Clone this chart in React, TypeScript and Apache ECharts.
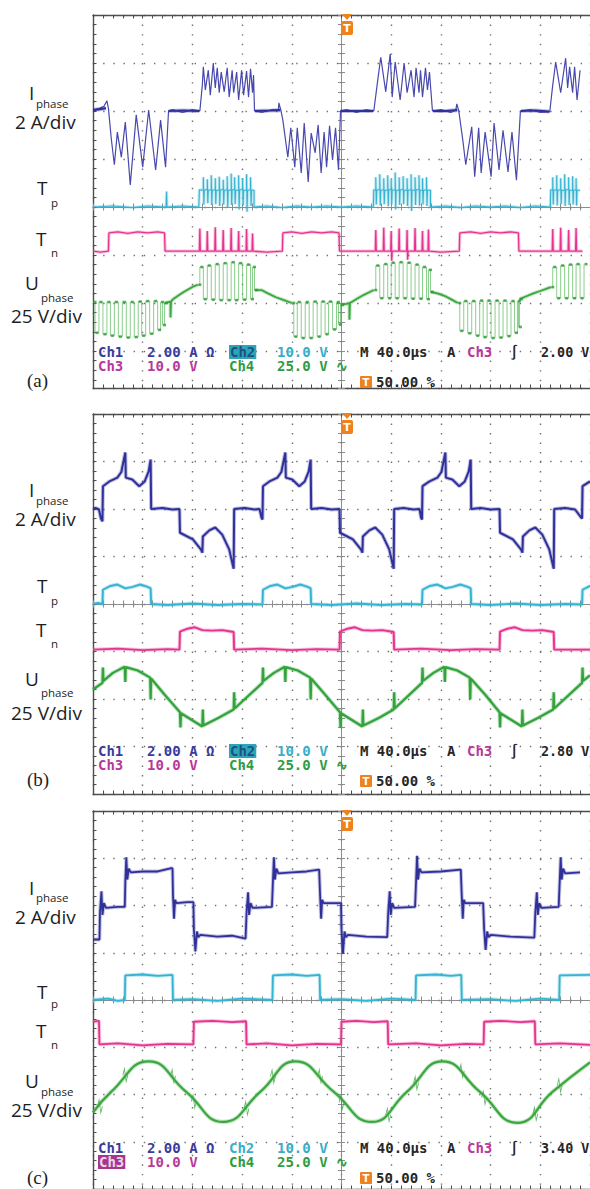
import React, { useEffect, useRef } from "react";
import * as echarts from "echarts";

type Pt = [number, number];

// ---------------- Panel (a) data (x: time in divisions, y: screen divisions) ----------------
const aIphase: Pt[] = [
  [-5.0, 2.02], [-4.86, 2.06], [-4.78, 2.1], [-4.72, 2.21], [-4.69, 2.06], [-4.63, 1.4], [-4.57, 0.88], [-4.51, 1.56],
  [-4.43, 1.04], [-4.35, 1.77], [-4.25, 0.46], [-4.13, 1.92], [-4.0, 0.83], [-3.88, 2.02], [-3.74, 0.77], [-3.64, 1.81],
  [-3.54, 0.83], [-3.48, 2.0], [-3.4, 2.03], [-3.2, 1.97], [-3.0, 2.03], [-2.85, 2.0], [-2.8, 2.54],
  [-2.78, 2.92], [-2.74, 2.44], [-2.68, 2.85], [-2.64, 2.33], [-2.58, 3.0], [-2.54, 2.48], [-2.5, 2.9], [-2.46, 2.38],
  [-2.42, 2.81], [-2.36, 2.4], [-2.3, 2.9], [-2.26, 2.29], [-2.2, 2.85], [-2.17, 2.38], [-2.11, 2.81], [-2.07, 2.23],
  [-2.01, 2.85], [-1.97, 2.33], [-1.91, 2.83], [-1.87, 2.29], [-1.83, 2.88], [-1.79, 2.38], [-1.77, 2.75], [-1.75, 2.0],
  [-1.6, 1.97], [-1.4, 2.03], [-1.27, 2.02], [-1.26, 2.17], [-1.22, 2.02],
  [-1.18, 1.81], [-1.08, 1.04], [-1.02, 1.65], [-0.94, 0.83], [-0.89, 1.65], [-0.81, 0.71], [-0.75, 1.75], [-0.67, 0.52],
  [-0.61, 1.54], [-0.53, 1.13], [-0.47, 1.71], [-0.41, 0.71], [-0.35, 1.56], [-0.3, 0.83], [-0.24, 1.69], [-0.18, 0.98],
  [-0.12, 1.65], [-0.06, 0.77], [-0.02, 2.0], [0.1, 2.03], [0.3, 1.97], [0.5, 2.03], [0.65, 2.0], [0.73, 2.65],
  [0.79, 3.12], [0.89, 2.4], [0.98, 3.19], [1.02, 2.29], [1.08, 3.02], [1.18, 2.23], [1.26, 3.0], [1.32, 2.38],
  [1.4, 2.85], [1.46, 2.29], [1.5, 2.9], [1.56, 2.38], [1.59, 2.85], [1.63, 2.29], [1.69, 2.9], [1.73, 2.44],
  [1.77, 2.81], [1.83, 2.0], [2.0, 2.03], [2.2, 1.97], [2.3, 2.02], [2.32, 2.15], [2.36, 2.0],
  [2.44, 1.4], [2.5, 0.88], [2.62, 1.67], [2.68, 0.63], [2.76, 1.65], [2.81, 0.71], [2.89, 1.56], [3.01, 0.63],
  [3.07, 1.75], [3.17, 0.77], [3.25, 1.6], [3.35, 0.73], [3.43, 1.56], [3.52, 0.56], [3.6, 2.0], [3.8, 2.03],
  [4.0, 1.97], [4.19, 1.98], [4.25, 2.54], [4.31, 3.02], [4.41, 2.38], [4.51, 3.1], [4.55, 2.48], [4.59, 2.92],
  [4.65, 2.38], [4.69, 2.92], [4.74, 2.23], [4.8, 2.85]
];

// flat (zero current) stretches of I_phase (a), drawn as a thicker band
const aIphaseFlat: Pt[][] = [
  [[-5.0, 2.02], [-4.86, 2.04], [-4.74, 2.06]],
  [[-3.48, 2.0], [-3.2, 2.01], [-2.86, 2.0]],
  [[-1.74, 2.0], [-1.4, 2.01], [-1.23, 2.02]],
  [[-0.02, 2.0], [0.3, 2.0], [0.64, 2.0]],
  [[1.84, 2.0], [2.1, 2.0], [2.33, 2.02]],
  [[3.61, 2.0], [3.9, 2.01], [4.18, 1.99]]
];

const aTp: Pt[] = [
  [-5.0, 0.0], [-4.6, 0.02], [-4.2, -0.01], [-3.9, 0.02], [-3.53, 0.0], [-3.52, 0.32], [-3.51, 0.0], [-3.2, 0.02], [-2.87, 0.0],
  [-2.86, 0.36], [-2.78, 0.35], [-2.78, 0.62], [-2.77, 0.05], [-2.76, 0.35], [-2.7, 0.37], [-2.7, 0.58], [-2.69, 0.08],
  [-2.68, 0.35], [-2.62, 0.36], [-2.62, 0.66], [-2.61, 0.04], [-2.6, 0.35], [-2.54, 0.36], [-2.54, 0.6], [-2.53, 0.06],
  [-2.52, 0.35], [-2.46, 0.35], [-2.46, 0.63], [-2.45, 0.02], [-2.44, 0.36], [-2.38, 0.36], [-2.38, 0.57], [-2.37, 0.05],
  [-2.36, 0.35], [-2.3, 0.36], [-2.3, 0.64], [-2.29, -0.02], [-2.28, 0.35], [-2.22, 0.35], [-2.22, 0.7], [-2.21, 0.04],
  [-2.2, 0.36], [-2.15, 0.36], [-2.15, 0.62], [-2.14, 0.06], [-2.13, 0.35], [-2.07, 0.35], [-2.07, 0.66], [-2.06, -0.05],
  [-2.05, 0.36], [-1.99, 0.36], [-1.99, 0.6], [-1.98, 0.03], [-1.97, 0.35], [-1.91, 0.35], [-1.91, 0.68], [-1.9, -0.1],
  [-1.89, 0.35], [-1.83, 0.36], [-1.83, 0.62], [-1.82, 0.02], [-1.81, 0.35], [-1.76, 0.35], [-1.76, 0.0],
  [-1.5, 0.02], [-1.2, -0.01], [-0.9, 0.02], [-0.6, 0.0], [-0.3, 0.02], [0.0, 0.0], [0.3, 0.02], [0.64, 0.0],
  [0.65, 0.36], [0.69, 0.35], [0.69, 0.62], [0.7, 0.05], [0.71, 0.35], [0.77, 0.37], [0.77, 0.68], [0.78, 0.03],
  [0.79, 0.35], [0.85, 0.36], [0.85, 0.6], [0.86, 0.06], [0.87, 0.35], [0.93, 0.35], [0.93, 0.66], [0.94, 0.02],
  [0.95, 0.36], [1.0, 0.36], [1.0, 0.58], [1.01, 0.05], [1.02, 0.35], [1.08, 0.36], [1.08, 0.72], [1.09, -0.05],
  [1.1, 0.35], [1.16, 0.35], [1.16, 0.62], [1.17, 0.04], [1.18, 0.36], [1.24, 0.36], [1.24, 0.64], [1.25, 0.06],
  [1.26, 0.35], [1.32, 0.35], [1.32, 0.6], [1.33, 0.02], [1.34, 0.35], [1.4, 0.36], [1.4, 0.68], [1.41, -0.08],
  [1.42, 0.35], [1.48, 0.35], [1.48, 0.62], [1.49, 0.04], [1.5, 0.36], [1.56, 0.36], [1.56, 0.66], [1.57, 0.03],
  [1.58, 0.35], [1.63, 0.35], [1.63, 0.6], [1.64, 0.05], [1.65, 0.35], [1.71, 0.36], [1.71, 0.62], [1.72, 0.02],
  [1.73, 0.35], [1.79, 0.35], [1.79, 0.0],
  [2.1, 0.02], [2.4, -0.01], [2.7, 0.02], [3.0, 0.0], [3.3, 0.02], [3.6, -0.01], [3.9, 0.02], [4.2, 0.0],
  [4.21, 0.36], [4.25, 0.35], [4.25, 0.62], [4.26, 0.05], [4.27, 0.35], [4.33, 0.36], [4.33, 0.66], [4.34, 0.03],
  [4.35, 0.35], [4.41, 0.36], [4.41, 0.6], [4.42, 0.06], [4.43, 0.35], [4.49, 0.35], [4.49, 0.68], [4.5, 0.02],
  [4.51, 0.36], [4.57, 0.36], [4.57, 0.62], [4.58, 0.04], [4.59, 0.35], [4.65, 0.35], [4.65, 0.64], [4.66, 0.05],
  [4.67, 0.35], [4.72, 0.36], [4.72, 0.6], [4.73, 0.03], [4.74, 0.35], [4.8, 0.35]
];

const aTn: Pt[] = [
  [-5.0, -0.92], [-4.85, -0.94], [-4.69, -0.92], [-4.68, -0.54], [-4.5, -0.52], [-4.3, -0.55], [-4.1, -0.52],
  [-3.9, -0.54], [-3.7, -0.52], [-3.56, -0.54], [-3.55, -0.92],
  [-2.86, -0.92], [-2.85, -0.45], [-2.84, -0.92], [-2.71, -0.92], [-2.7, -0.5], [-2.69, -0.92], [-2.55, -0.92],
  [-2.54, -0.42], [-2.53, -0.92], [-2.39, -0.92], [-2.38, -0.48], [-2.37, -0.92], [-2.23, -0.92], [-2.22, -0.44],
  [-2.21, -0.92], [-2.08, -0.92], [-2.07, -0.5], [-2.06, -0.92], [-1.92, -0.92], [-1.91, -0.46], [-1.9, -0.92],
  [-1.8, -0.92], [-1.79, -0.55], [-1.78, -0.92],
  [-1.5, -0.94], [-1.19, -0.92], [-1.18, -0.54], [-1.0, -0.52], [-0.8, -0.55], [-0.6, -0.52], [-0.4, -0.54],
  [-0.2, -0.52], [-0.05, -0.54], [-0.04, -0.92],
  [0.68, -0.92], [0.69, -0.48], [0.7, -0.92], [0.84, -0.92], [0.85, -0.43], [0.86, -0.92], [0.99, -0.92],
  [1.0, -0.5], [1.01, -1.12], [1.02, -0.92], [1.15, -0.92], [1.16, -0.45], [1.17, -0.92], [1.31, -0.92],
  [1.32, -0.48], [1.33, -1.1], [1.34, -0.92], [1.47, -0.92], [1.48, -0.44], [1.49, -0.92], [1.62, -0.92],
  [1.63, -0.5], [1.64, -0.92], [1.74, -0.92], [1.75, -0.47], [1.76, -0.92],
  [2.0, -0.94], [2.37, -0.92], [2.38, -0.54], [2.6, -0.52], [2.8, -0.55], [3.0, -0.52], [3.2, -0.54],
  [3.4, -0.52], [3.56, -0.54], [3.57, -0.92],
  [4.24, -0.92], [4.25, -0.46], [4.26, -0.92], [4.4, -0.92], [4.41, -0.43], [4.42, -0.92], [4.56, -0.92],
  [4.57, -0.48], [4.58, -0.92], [4.71, -0.92], [4.72, -0.44], [4.73, -0.92], [4.85, -0.92]
];

// PWM switching stretches of U_phase (a): each point = [switch time, new level]
const aUphasePwm: Pt[][] = [
  [[-5.0, -1.98], [-4.96, -2.62], [-4.88, -1.98], [-4.8, -2.65], [-4.72, -1.98], [-4.65, -2.68], [-4.57, -1.98],
   [-4.49, -2.7], [-4.41, -1.98], [-4.33, -2.72], [-4.25, -1.98], [-4.17, -2.71], [-4.09, -1.97], [-4.02, -2.68],
   [-3.94, -1.96], [-3.86, -2.64], [-3.78, -1.96], [-3.7, -2.56], [-3.64, -1.98], [-3.6, -2.46], [-3.56, -2.0]],
  [[-2.89, -1.62], [-2.85, -1.25], [-2.78, -1.92], [-2.7, -1.22], [-2.62, -1.93], [-2.54, -1.19], [-2.46, -1.94],
   [-2.38, -1.17], [-2.3, -1.94], [-2.22, -1.15], [-2.15, -1.94], [-2.07, -1.17], [-1.99, -1.93], [-1.91, -1.2],
   [-1.83, -1.92], [-1.79, -1.25], [-1.75, -1.73]],
  [[-1.0, -2.0], [-0.96, -2.7], [-0.89, -1.98], [-0.81, -2.73], [-0.73, -1.98], [-0.65, -2.73], [-0.57, -1.97],
   [-0.49, -2.7], [-0.41, -1.97], [-0.33, -2.65], [-0.26, -1.97], [-0.18, -2.55], [-0.1, -1.98], [-0.06, -2.45],
   [-0.02, -2.04]],
  [[0.65, -1.73], [0.69, -1.22], [0.77, -1.9], [0.85, -1.19], [0.93, -1.9], [1.0, -1.16], [1.08, -1.9], [1.16, -1.15],
   [1.24, -1.9], [1.32, -1.16], [1.4, -1.91], [1.48, -1.2], [1.56, -1.91], [1.63, -1.25], [1.71, -1.92],
   [1.75, -1.31], [1.79, -1.77]],
  [[2.34, -2.0], [2.38, -2.58], [2.46, -1.96], [2.54, -2.63], [2.62, -1.96], [2.7, -2.68], [2.78, -1.95],
   [2.85, -2.71], [2.93, -1.95], [3.01, -2.73], [3.09, -1.95], [3.17, -2.72], [3.25, -1.95], [3.33, -2.69],
   [3.41, -1.96], [3.48, -2.62], [3.54, -1.96], [3.56, -2.5], [3.58, -1.92]],
  [[4.21, -1.67], [4.25, -1.25], [4.33, -1.9], [4.41, -1.22], [4.49, -1.9], [4.57, -1.2], [4.65, -1.9],
   [4.72, -1.19], [4.8, -1.9], [4.88, -1.19]]
];

// slow (non switching) stretches of U_phase (a)
const aUphaseRamp: Pt[][] = [
  [[-3.56, -2.0], [-3.48, -1.98], [-3.44, -1.97], [-3.44, -2.3], [-3.43, -1.97], [-3.39, -1.92], [-3.29, -1.85],
   [-3.19, -1.78], [-3.09, -1.72], [-2.99, -1.66], [-2.89, -1.62]],
  [[-1.75, -1.73], [-1.61, -1.73], [-1.48, -1.8], [-1.32, -1.88], [-1.16, -1.94], [-1.0, -2.0]],
  [[-0.02, -2.04], [0.1, -2.02], [0.16, -2.0], [0.16, -2.35], [0.17, -2.0], [0.22, -1.97], [0.33, -1.9],
   [0.45, -1.83], [0.57, -1.77], [0.65, -1.73]],
  [[1.79, -1.77], [1.93, -1.8], [2.07, -1.85], [2.2, -1.92], [2.34, -2.0]],
  [[3.58, -1.92], [3.72, -1.86], [3.86, -1.8], [4.0, -1.75], [4.13, -1.7], [4.21, -1.67]]
];

// ---------------- Panel (b) data ----------------
const bIphase: Pt[] = [
  [-5.0, 2.0], [-4.95, 2.02], [-4.88, 1.99], [-4.84, 1.8], [-4.81, 1.74],
  [-4.8, 2.48], [-4.67, 2.58], [-4.51, 2.66], [-4.43, 2.78], [-4.35, 3.19], [-4.34, 2.66], [-4.21, 2.62],
  [-4.07, 2.48], [-3.96, 2.58], [-3.88, 2.79], [-3.84, 3.04], [-3.83, 2.0],
  [-3.6, 2.02], [-3.4, 1.99], [-3.26, 2.0],
  [-3.25, 1.5], [-2.99, 1.36], [-2.83, 1.15], [-2.8, 1.08], [-2.79, 1.42], [-2.66, 1.55], [-2.54, 1.61],
  [-2.4, 1.46], [-2.26, 1.15], [-2.17, 0.74], [-2.16, 2.0],
  [-1.95, 2.02], [-1.75, 1.99], [-1.65, 2.0], [-1.61, 1.82], [-1.59, 1.78],
  [-1.58, 2.48], [-1.45, 2.58], [-1.29, 2.66], [-1.21, 2.78], [-1.13, 3.19], [-1.12, 2.66], [-0.99, 2.62],
  [-0.85, 2.48], [-0.74, 2.58], [-0.66, 2.79], [-0.62, 3.04], [-0.61, 2.0],
  [-0.4, 2.02], [-0.2, 1.99], [-0.04, 2.0],
  [-0.03, 1.5], [0.23, 1.36], [0.39, 1.15], [0.42, 1.08], [0.43, 1.42], [0.56, 1.55], [0.68, 1.61],
  [0.82, 1.46], [0.96, 1.15], [1.05, 0.74], [1.06, 2.0],
  [1.25, 2.02], [1.45, 1.99], [1.57, 2.0], [1.6, 1.82], [1.62, 1.78],
  [1.63, 2.48], [1.77, 2.58], [1.93, 2.66], [2.01, 2.78], [2.09, 3.19], [2.1, 2.66], [2.23, 2.62],
  [2.37, 2.48], [2.48, 2.58], [2.56, 2.79], [2.6, 3.04], [2.61, 2.0],
  [2.8, 2.02], [3.0, 1.99], [3.18, 2.0],
  [3.19, 1.5], [3.45, 1.36], [3.61, 1.15], [3.64, 1.08], [3.65, 1.42], [3.78, 1.55], [3.9, 1.61],
  [4.04, 1.46], [4.18, 1.15], [4.27, 0.74], [4.28, 2.0],
  [4.5, 2.02], [4.7, 1.99], [4.8, 1.85], [4.84, 1.8], [4.85, 2.48], [5.0, 2.58]
];

const bTp: Pt[] = [
  [-5.0, 0.0], [-4.9, 0.02], [-4.81, 0.0], [-4.8, 0.3], [-4.65, 0.38], [-4.51, 0.41], [-4.35, 0.33], [-4.2, 0.36],
  [-4.05, 0.41], [-3.9, 0.36], [-3.84, 0.33], [-3.83, 0.0], [-3.5, -0.02], [-3.0, 0.01], [-2.5, -0.02], [-2.0, 0.0],
  [-1.59, -0.01], [-1.58, 0.3], [-1.43, 0.38], [-1.29, 0.41], [-1.13, 0.33], [-0.98, 0.36], [-0.83, 0.41],
  [-0.68, 0.36], [-0.62, 0.33], [-0.61, 0.0], [-0.2, -0.02], [0.3, 0.01], [0.8, -0.02], [1.3, 0.0], [1.62, -0.01],
  [1.63, 0.3], [1.78, 0.38], [1.93, 0.41], [2.09, 0.33], [2.24, 0.36], [2.39, 0.41], [2.54, 0.36], [2.6, 0.33],
  [2.61, 0.0], [3.0, -0.02], [3.5, 0.01], [4.0, -0.02], [4.5, 0.0], [4.84, -0.01], [4.85, 0.3], [5.0, 0.38]
];

const bTn: Pt[] = [
  [-5.0, -0.96], [-4.5, -0.94], [-4.0, -0.97], [-3.5, -0.95], [-3.26, -0.96],
  [-3.25, -0.58], [-3.1, -0.52], [-2.95, -0.49], [-2.8, -0.55], [-2.6, -0.56], [-2.4, -0.55], [-2.17, -0.59],
  [-2.16, -0.96], [-1.6, -0.94], [-1.0, -0.97], [-0.5, -0.95], [-0.04, -0.96],
  [-0.03, -0.58], [0.12, -0.52], [0.27, -0.49], [0.42, -0.55], [0.62, -0.56], [0.82, -0.55], [1.05, -0.59],
  [1.06, -0.96], [1.6, -0.94], [2.2, -0.97], [2.7, -0.95], [3.18, -0.96],
  [3.19, -0.58], [3.34, -0.52], [3.49, -0.49], [3.64, -0.55], [3.84, -0.56], [4.04, -0.55], [4.27, -0.59],
  [4.28, -0.96], [5.0, -0.96]
];

const bUphase: Pt[] = [
  [-5.0, -1.8], [-4.81, -1.66], [-4.8, -1.34], [-4.79, -1.62], [-4.6, -1.45], [-4.36, -1.32], [-4.35, -1.64],
  [-4.34, -1.33], [-4.1, -1.4], [-3.85, -1.55], [-3.84, -2.01], [-3.83, -1.57], [-3.55, -1.92], [-3.25, -2.28],
  [-3.24, -2.6], [-3.23, -2.3], [-2.8, -2.58], [-2.79, -2.22], [-2.78, -2.56], [-2.48, -2.4], [-2.17, -2.22],
  [-2.16, -1.86], [-2.15, -2.2], [-1.59, -1.66], [-1.58, -1.34], [-1.57, -1.62], [-1.36, -1.45], [-1.14, -1.32],
  [-1.13, -1.64], [-1.12, -1.33], [-0.88, -1.4], [-0.63, -1.55], [-0.62, -2.01], [-0.61, -1.57], [-0.32, -1.92],
  [-0.03, -2.28], [-0.02, -2.6], [-0.01, -2.3], [0.42, -2.58], [0.43, -2.22], [0.44, -2.56], [0.75, -2.4],
  [1.05, -2.22], [1.06, -1.86], [1.07, -2.2], [1.62, -1.66], [1.63, -1.34], [1.64, -1.62], [1.85, -1.45],
  [2.07, -1.32], [2.08, -1.64], [2.09, -1.33], [2.33, -1.4], [2.58, -1.55], [2.59, -2.01], [2.6, -1.57],
  [2.9, -1.92], [3.18, -2.28], [3.19, -2.6], [3.2, -2.3], [3.63, -2.58], [3.64, -2.22], [3.65, -2.56],
  [3.95, -2.4], [4.26, -2.22], [4.27, -1.86], [4.28, -2.2], [4.84, -1.66], [4.85, -1.34], [4.86, -1.62], [5.0, -1.5]
];

// ---------------- Panel (c) data ----------------
const cIphase: Pt[] = [
  [-5.0, 1.28], [-4.87, 1.28], [-4.86, 1.85], [-4.83, 2.3], [-4.81, 1.8], [-4.78, 2.05], [-4.74, 1.95],
  [-4.5, 1.97], [-4.36, 1.97], [-4.35, 2.5], [-4.33, 3.02], [-4.31, 2.55], [-4.28, 2.78], [-4.24, 2.7],
  [-4.0, 2.72], [-3.7, 2.72], [-3.42, 2.79], [-3.4, 2.78], [-3.39, 2.2], [-3.37, 1.72], [-3.35, 2.12],
  [-3.32, 2.05], [-3.1, 2.07], [-2.98, 2.07], [-2.97, 1.5], [-2.94, 1.03], [-2.91, 1.45], [-2.88, 1.33],
  [-2.84, 1.38], [-2.5, 1.34], [-2.2, 1.36], [-1.93, 1.3], [-1.91, 1.85], [-1.88, 2.28], [-1.86, 1.8],
  [-1.83, 2.05], [-1.79, 1.95], [-1.4, 1.97], [-1.38, 2.5], [-1.36, 3.02], [-1.34, 2.55], [-1.31, 2.78],
  [-1.27, 2.68], [-1.0, 2.7], [-0.7, 2.72], [-0.45, 2.76], [-0.43, 2.2], [-0.41, 1.72], [-0.39, 2.12],
  [-0.36, 2.05], [-0.1, 2.05], [-0.01, 2.05], [0.0, 1.5], [0.03, 0.98], [0.06, 1.45], [0.09, 1.33],
  [0.13, 1.38], [0.5, 1.34], [0.92, 1.33], [0.94, 1.85], [0.97, 2.3], [0.99, 1.8], [1.02, 2.05], [1.06, 1.95],
  [1.48, 1.97], [1.5, 2.5], [1.52, 3.05], [1.54, 2.55], [1.57, 2.78], [1.61, 2.7], [2.0, 2.72], [2.4, 2.76],
  [2.42, 2.2], [2.44, 1.72], [2.46, 2.12], [2.49, 2.05], [2.85, 2.05], [2.87, 1.5], [2.9, 1.06], [2.93, 1.45],
  [2.96, 1.33], [3.0, 1.38], [3.4, 1.34], [3.88, 1.32], [3.9, 1.85], [3.93, 2.28], [3.95, 1.8], [3.98, 2.05],
  [4.02, 1.95], [4.37, 1.97], [4.39, 2.5], [4.41, 3.02], [4.43, 2.55], [4.46, 2.78], [4.5, 2.68], [4.8, 2.7]
];

const cTp: Pt[] = [
  [-5.0, 0.0], [-4.7, 0.03], [-4.5, -0.02], [-4.36, 0.0], [-4.35, 0.52], [-4.0, 0.54], [-3.7, 0.51], [-3.4, 0.53],
  [-3.39, 0.0], [-3.0, 0.02], [-2.5, -0.02], [-2.0, 0.03], [-1.39, 0.0], [-1.38, 0.52], [-1.0, 0.54], [-0.7, 0.51],
  [-0.44, 0.53], [-0.43, 0.0], [0.0, 0.02], [0.5, -0.02], [1.0, 0.03], [1.49, 0.0], [1.5, 0.52], [1.9, 0.54],
  [2.2, 0.51], [2.41, 0.53], [2.42, 0.0], [3.0, 0.02], [3.5, -0.02], [4.0, 0.03], [4.38, 0.0], [4.39, 0.52], [5.0, 0.53]
];

const cTn: Pt[] = [
  [-5.0, -0.46], [-4.88, -0.44], [-4.87, -0.94], [-4.5, -0.92], [-4.0, -0.96], [-3.5, -0.93], [-2.98, -0.94],
  [-2.97, -0.46], [-2.6, -0.44], [-2.2, -0.47], [-1.92, -0.45], [-1.91, -0.94], [-1.5, -0.92], [-1.0, -0.96],
  [-0.5, -0.93], [-0.01, -0.94], [0.0, -0.46], [0.3, -0.44], [0.65, -0.47], [0.93, -0.45], [0.94, -0.94],
  [1.5, -0.92], [2.0, -0.96], [2.5, -0.93], [2.86, -0.94], [2.87, -0.46], [3.2, -0.44], [3.6, -0.47],
  [3.89, -0.45], [3.9, -0.94], [4.4, -0.92], [5.0, -0.95]
];

const cUphase: Pt[] = [
  [-5.0, -2.38], [-4.63, -1.94], [-3.88, -1.3], [-3.13, -1.94], [-2.38, -2.58], [-1.63, -1.94], [-0.93, -1.3],
  [-0.16, -1.94], [0.61, -2.58], [1.32, -1.94], [2.03, -1.3], [2.78, -1.94], [3.54, -2.6], [4.25, -1.94], [5.0, -1.32]
];

// switching glitches on U_phase (c)
const cUphaseGlitch: Pt[] = [
  [-4.86, -2.25], [-4.35, -1.59], [-3.39, -1.61], [-2.97, -2.15], [-1.91, -2.29], [-1.38, -1.62], [-0.43, -1.61],
  [0.0, -2.17], [0.94, -2.43], [1.5, -1.76], [2.42, -1.5], [2.87, -2.07], [3.9, -2.41], [4.39, -1.81]
];

// ---------------- texts ----------------
const panelNames = ["(a)", "(b)", "(c)"];
const triggerLevels = ["2.00 V", "2.80 V", "3.40 V"];
const highlighted = ["Ch2", "Ch2", "Ch3"];

// ---------------- layout / style ----------------
const W = 590;
const H = 1189;
const GRID_LEFT = 93;
const DIV_W = 50.8;
const PANEL_TOP = [15, 414, 811];
const PANEL_DIV_H = [48, 47.5, 47.75];
const PANEL_YMIN = [-3.77, -4, -4];

const COL1 = "#30309a";
const COL2 = "#34b4d2";
const COL3 = "#e6348e";
const COL4 = "#3aa83e";
const TXT1 = "#3b3b9c";
const TXT2 = "#38aec8";
const TXT3 = "#b8399a";
const TXT4 = "#2f9c44";
const DARK = "#262626";
const ORANGE = "#f0821e";
const FRAME = "#4d4d4d";
const DOT = "#6f6f6f";
const CENTER = "#8c8c8c";

// label mid-heights per panel: I, phase, 2A/div, T(p), p, T(n), n, U, phase, 25V/div, (x)
const LABEL_Y = [
  [93, 103, 122, 188, 202, 239, 252, 283, 297, 316, 380],
  [490, 500, 519, 586, 600, 630, 643, 679, 692, 713, 779],
  [888, 897, 917, 992, 1003, 1031, 1044, 1081, 1091, 1110, 1177]
];

function buildOption() {
  const xAxes: any[] = [];
  const yAxes: any[] = [];
  const grids: any[] = [];
  const series: any[] = [];
  const graphic: any[] = [];

  for (let g = 0; g < 3; g++) {
    const top = PANEL_TOP[g];
    const dh = PANEL_DIV_H[g];
    const ymin = PANEL_YMIN[g];
    grids.push({ left: GRID_LEFT, top, width: DIV_W * 10, height: (4 - ymin) * dh, containLabel: false });
    ["bottom", "top", "cu", "cd"].forEach((k) => {
      const border = k === "bottom" || k === "top";
      xAxes.push({
        type: "value", gridIndex: g, min: -5, max: 5, interval: 1,
        position: k === "top" ? "top" : "bottom",
        axisLabel: { show: false },
        axisLine: { show: true, onZero: !border, lineStyle: { color: border ? FRAME : CENTER, width: border ? 1.4 : 1 } },
        axisTick: { show: true, inside: k !== "cd", length: 3.5, lineStyle: { color: border ? FRAME : CENTER, width: 1 } },
        minorTick: { show: true, splitNumber: 5, length: 3.5, lineStyle: { color: border ? FRAME : CENTER, width: 1 } },
        splitLine: { show: k === "bottom", lineStyle: { color: DOT, width: 1.4, type: [1.4, dh / 5 - 1.4] } },
        silent: true
      });
    });
    ["left", "cr", "cl"].forEach((k) => {
      const border = k === "left";
      yAxes.push({
        type: "value", gridIndex: g, min: ymin, max: 4, splitNumber: 8, minInterval: 1, maxInterval: 1,
        position: "left",
        axisLabel: { show: false },
        axisLine: { show: true, onZero: !border, lineStyle: { color: border ? FRAME : CENTER, width: border ? 1.4 : 1 } },
        axisTick: { show: true, inside: k !== "cl", length: 3.5, lineStyle: { color: border ? FRAME : CENTER, width: 1 } },
        minorTick: { show: true, splitNumber: 5, length: 3.5, lineStyle: { color: border ? FRAME : CENTER, width: 1 } },
        splitLine: { show: border, lineStyle: { color: DOT, width: 1.4, type: [1.4, DIV_W / 5 - 1.4] } },
        silent: true
      });
    });
  }

  const line = (g: number, data: any[], color: string, width: number, extra: any = {}) => ({
    type: "line", xAxisIndex: g * 4, yAxisIndex: g * 3, data, showSymbol: false, symbol: "none",
    silent: true, animation: false, clip: true,
    lineStyle: { color, width }, z: 5, ...extra
  });
  // a noisy trace: a faint wide halo under a solid core
  const fuzzy = (g: number, data: any[], color: string, width: number, extra: any = {}) => {
    series.push(line(g, data, color, width + 2, { ...extra, z: 4, lineStyle: { color, width: width + 2, opacity: 0.3 } }));
    series.push(line(g, data, color, width, extra));
  };

  // panel (a)
  fuzzy(0, aTn, COL3, 1.3);
  fuzzy(0, aTp, COL2, 1.1);
  aUphasePwm.forEach((d) => {
    series.push(line(0, d, "#66bf66", 0.9, { step: "end", lineStyle: { color: "#5dbb5f", width: 0.9, opacity: 0.8 } }));
    series.push({
      type: "scatter", xAxisIndex: 0, yAxisIndex: 0, data: d, silent: true, animation: false,
      symbol: "rect", symbolSize: [3, 2.6], symbolOffset: [2, 0], itemStyle: { color: "#2f9a37" }, z: 6
    });
  });
  aUphaseRamp.forEach((d) => fuzzy(0, d, COL4, 1.8));
  series.push(line(0, aIphase, "#4848ad", 1.2));
  aIphaseFlat.forEach((d) => fuzzy(0, d, COL1, 2.2));
  // panel (b)
  fuzzy(1, bTn, COL3, 1.9);
  fuzzy(1, bTp, COL2, 1.9);
  fuzzy(1, bUphase, "#33a33b", 2.2);
  fuzzy(1, bIphase, COL1, 2.0);
  // panel (c)
  fuzzy(2, cTn, COL3, 1.8);
  fuzzy(2, cTp, COL2, 1.8);
  fuzzy(2, cUphase, COL4, 2.2, { smooth: 0.5 });
  series.push({
    type: "scatter", xAxisIndex: 8, yAxisIndex: 6, data: cUphaseGlitch, silent: true, animation: false,
    symbol: "path://M0,10 L3,0 L6,20 L9,10", symbolSize: [5, 13],
    itemStyle: { color: "none", borderColor: COL4, borderWidth: 1.2 }, z: 6
  });
  fuzzy(2, cIphase, COL1, 1.8);

  // graphics
  for (let g = 0; g < 3; g++) {
    const top = PANEL_TOP[g];
    const cx = GRID_LEFT + 5 * DIV_W;
    const L = LABEL_Y[g];
    const lab = (text: string, x: number, y: number, size: number, fam = '"Open Sans", "Noto Sans", sans-serif') => ({
      type: "text", x, y, silent: true, z: 10,
      style: { text, fill: "#1e1e1e", font: `${size}px ${fam}`, align: "left", verticalAlign: "middle", textAlign: "left", textVerticalAlign: "middle" }
    });
    graphic.push(lab("I", 29, L[0], 19));
    graphic.push(lab("phase", 36, L[1], 11.5));
    graphic.push(lab("2 A/div", 15, L[2], 19));
    graphic.push(lab("T", 37, L[3], 19));
    graphic.push(lab("p", 51, L[4], 11.5));
    graphic.push(lab("T", 36, L[5], 19));
    graphic.push(lab("n", 51, L[6], 11.5));
    graphic.push(lab("U", 25, L[7], 19));
    graphic.push(lab("phase", 41, L[8], 11.5));
    graphic.push(lab("25 V/div", 11, L[9], 19));
    graphic.push(lab(panelNames[g], 27, L[10], 19, '"Liberation Serif", "DejaVu Serif", serif'));

    // trigger pin on top
    graphic.push({ type: "polygon", silent: true, z: 11, shape: { points: [[cx - 5, top - 1], [cx + 5, top - 1], [cx, top + 5]] }, style: { fill: ORANGE } });
    graphic.push({ type: "rect", silent: true, z: 11, shape: { x: cx - 6, y: top + 6, width: 12, height: 14, r: 2 }, style: { fill: ORANGE } });
    graphic.push({ type: "text", silent: true, z: 12, x: cx, y: top + 13.5, style: { text: "T", fill: "#fff", font: 'bold 11px "DejaVu Sans", sans-serif', align: "center", verticalAlign: "middle", textAlign: "center", textVerticalAlign: "middle" } });

    // readouts
    const y1 = top + 337;
    const y2 = top + 351;
    const y3 = top + 367;
    const ro = (text: string, x: number, y: number, fill: string, bg?: string, bgText?: string, size = 14) => ({
      type: "text", x, y, silent: true, z: 10,
      style: {
        text, fill: bg ? (bgText || "#fff") : fill, font: `bold ${size}px "DejaVu Sans Mono", monospace`,
        align: "left", verticalAlign: "middle", textAlign: "left", textVerticalAlign: "middle",
        ...(bg ? { backgroundColor: bg, padding: [0, 1, 0, 1] } : {})
      }
    });
    const hl = highlighted[g];
    graphic.push(ro("Ch1", 98, y1, TXT1));
    graphic.push(ro("2.00 A \u03a9", 147, y1, TXT1));
    graphic.push(hl === "Ch2" ? ro("Ch2", 229, y1, TXT2, "#2aa6b6", "#1f4f86") : ro("Ch2", 229, y1, TXT2));
    graphic.push(ro("10.0 V", 277, y1, TXT2));
    graphic.push(ro("M 40.0\u00b5s", 360, y1, DARK));
    graphic.push(ro("A", 447, y1, DARK));
    graphic.push(ro("Ch3", 467, y1, TXT3));
    graphic.push(ro("\u222b", 510, y1, DARK));
    graphic.push(ro(triggerLevels[g], 541, y1, DARK, undefined, undefined, 13.4));
    graphic.push(hl === "Ch3" ? ro("Ch3", 98, y2, TXT3, "#a8358c", "#e9d6ec") : ro("Ch3", 98, y2, TXT3));
    graphic.push(ro("10.0 V", 147, y2, TXT3));
    graphic.push(ro("Ch4", 229, y2, TXT4));
    graphic.push(ro("25.0 V", 277, y2, TXT4));
    graphic.push(ro("\u223f", 336, y2, TXT4));
    graphic.push({ type: "rect", silent: true, z: 11, shape: { x: 360, y: y3 - 6, width: 12, height: 12, r: 1 }, style: { fill: ORANGE } });
    graphic.push({ type: "text", silent: true, z: 12, x: 366, y: y3, style: { text: "T", fill: "#fff", font: 'bold 10px "DejaVu Sans", sans-serif', align: "center", verticalAlign: "middle", textAlign: "center", textVerticalAlign: "middle" } });
    graphic.push(ro("50.00 %", 376, y3, DARK));
  }

  return {
    animation: false,
    backgroundColor: "#ffffff",
    grid: grids,
    xAxis: xAxes,
    yAxis: yAxes,
    series,
    graphic
  };
}

export default function App() {
  const ref = useRef<HTMLDivElement>(null);
  useEffect(() => {
    if (!ref.current) return;
    const chart = echarts.init(ref.current, null, { renderer: "svg", width: W, height: H });
    chart.setOption(buildOption() as any);
    return () => chart.dispose();
  }, []);
  return (
    <div
      ref={ref}
      style={{ position: "absolute", left: 0, top: 0, width: W, height: H, background: "#fff" }}
    />
  );
}
